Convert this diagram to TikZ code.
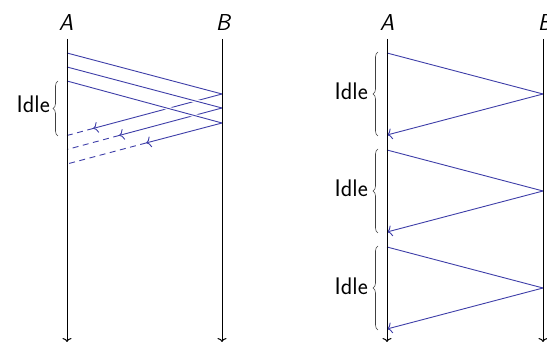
\documentclass[tikz,border=0pt]{standalone}
\usetikzlibrary{decorations.pathreplacing,arrows.meta}
\definecolor{msg}{RGB}{62,62,168}
\begin{document}
\begin{tikzpicture}[x=1pt,y=-1pt,
  axis/.style={line width=1pt,-{To[length=4pt,width=9pt]}},
  fwd/.style={msg,line width=0.9pt},
  halo/.style={preaction={draw=white,line width=3.5pt,shorten <=5pt,shorten >=5pt}},
  ret/.style={msg,line width=0.9pt,-{To[length=5pt,width=11pt]}},
  retd/.style={msg,line width=0.9pt,dash pattern=on 6pt off 4.5pt},
  lbl/.style={font=\fontsize{23}{23}\selectfont\sffamily\itshape,inner sep=0pt},
  idle/.style={font=\fontsize{24}{24}\selectfont\sffamily,inner sep=0pt,anchor=east},
  brc/.style={decorate,decoration={brace,amplitude=5pt},line width=0.6pt,black!75}]
\useasboundingbox (0,0) rectangle (547,344);

% ---------- left diagram ----------
\node[lbl] (LA) at (66,23) {A};
\node[lbl] (LB) at (223,23) {B};
\coordinate (LAt) at (67,39);  \coordinate (LAb) at (67,342);
\coordinate (LBt) at (222,39); \coordinate (LBb) at (222,342);

\coordinate (f1s) at (67,53);  \coordinate (f1e) at (222,94);
\coordinate (f2s) at (67,67);  \coordinate (f2e) at (222,108);
\coordinate (f3s) at (67,81);  \coordinate (f3e) at (222,123);

\coordinate (p1) at (93,128.5);  \coordinate (r1) at (67,135.5);
\coordinate (p2) at (119,135.5); \coordinate (r2) at (67,149.5);
\coordinate (p3) at (146,143);   \coordinate (r3) at (67,164);

\draw[ret] (f1e) -- (p1);
\draw[retd] (p1) -- (r1);
\draw[ret] (f2e) -- (p2);
\draw[retd] (p2) -- (r2);
\draw[ret] (f3e) -- (p3);
\draw[retd] (p3) -- (r3);

\draw[fwd,halo] (f1s) -- (f1e);
\draw[fwd,halo] (f2s) -- (f2e);
\draw[fwd,halo] (f3s) -- (f3e);

\draw[axis] (LAt) -- (LAb);
\draw[axis] (LBt) -- (LBb);

\coordinate (lbb) at (58,136); \coordinate (lbt) at (58,81);
\draw[brc] (lbb) -- (lbt);
\node[idle] (LI) at (50,104) {Idle};

% ---------- right diagram ----------
\node[lbl] (RA) at (387,23) {A};
\node[lbl] (RB) at (545,23) {B};
\coordinate (RAt) at (387,39);  \coordinate (RAb) at (387,342);
\coordinate (RBt) at (543,39);  \coordinate (RBb) at (543,342);

\coordinate (g1s) at (387,53);  \coordinate (g1e) at (543,94);  \coordinate (h1) at (387,135);
\coordinate (g2s) at (387,150); \coordinate (g2e) at (543,191); \coordinate (h2) at (387,232);
\coordinate (g3s) at (387,247); \coordinate (g3e) at (543,288); \coordinate (h3) at (387,329);

\draw[fwd] (g1s) -- (g1e);
\draw[ret] (g1e) -- (h1);
\draw[fwd] (g2s) -- (g2e);
\draw[ret] (g2e) -- (h2);
\draw[fwd] (g3s) -- (g3e);
\draw[ret] (g3e) -- (h3);

\draw[axis] (RAt) -- (RAb);
\draw[axis] (RBt) -- (RBb);

\draw[brc] (378,136) -- (378,52);
\draw[brc] (378,233) -- (378,149);
\draw[brc] (378,330) -- (378,246);
\node[idle] (RI1) at (368,91) {Idle};
\node[idle] (RI2) at (368,188) {Idle};
\node[idle] (RI3) at (368,286) {Idle};
\end{tikzpicture}
\end{document}
